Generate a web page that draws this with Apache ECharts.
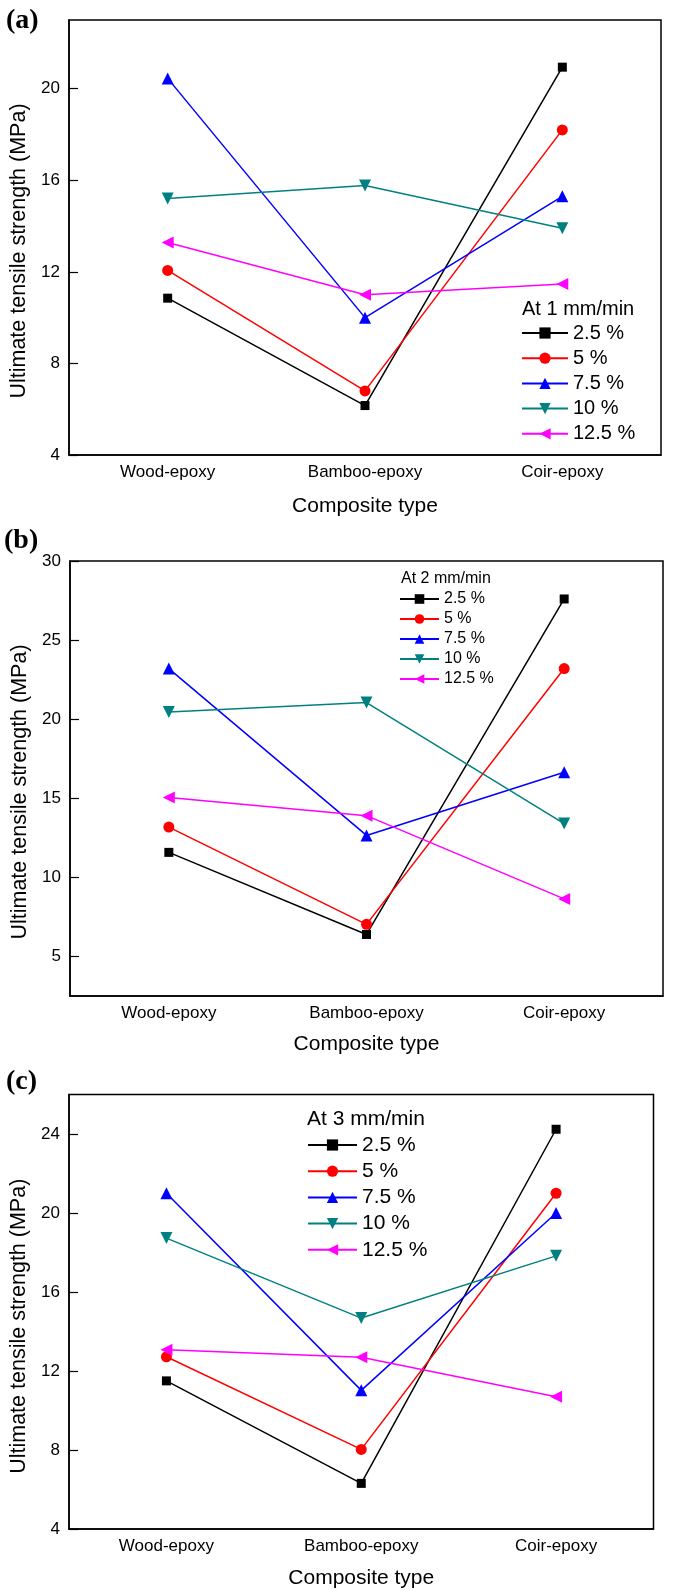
<!DOCTYPE html>
<html>
<head>
<meta charset="utf-8">
<script src="https://cdn.jsdelivr.net/npm/echarts@6/dist/echarts.min.js"></script>
<style>
html,body{margin:0;padding:0;background:#fff;}
#chart{width:685px;height:1593px;}
</style>
</head>
<body>
<div id="chart"></div>
<script>
// ---- data ----
const categories = ['Wood-epoxy', 'Bamboo-epoxy', 'Coir-epoxy'];
const seriesNames = ['2.5 %', '5 %', '7.5 %', '10 %', '12.5 %'];

// (a) At 1 mm/min
const a25  = [10.85, 6.16, 20.94];
const a5   = [12.06, 6.80, 18.20];
const a75  = [20.45, 10.00, 15.30];
const a10  = [15.20, 15.77, 13.90];
const a125 = [13.28, 11.00, 11.47];
// (b) At 2 mm/min
const b25  = [11.58, 6.39, 27.60];
const b5   = [13.18, 7.03, 23.20];
const b75  = [23.20, 12.65, 16.65];
const b10  = [20.45, 21.05, 13.40];
const b125 = [15.05, 13.90, 8.64];
// (c) At 3 mm/min
const c25  = [11.50, 6.31, 24.24];
const c5   = [12.72, 8.03, 21.00];
const c75  = [21.00, 11.02, 20.00];
const c10  = [18.73, 14.68, 17.83];
const c125 = [13.08, 12.70, 10.70];

const ticksA = [4, 8, 12, 16, 20];
const ticksB = [5, 10, 15, 20, 25, 30];
const ticksC = [4, 8, 12, 16, 20, 24];

const panelTitles = ['At 1 mm/min', 'At 2 mm/min', 'At 3 mm/min'];
const panelLetters = ['(a)', '(b)', '(c)'];

// ---- styles ----
const FONT = 'Liberation Sans, Arial, sans-serif';
const colors = ['#000000', '#ff0000', '#0000ff', '#008080', '#ff00ff'];
const symbols = ['rect', 'circle', 'triangle', 'triangle', 'triangle'];
const symbolRotates = [0, 0, 0, 180, 90];
const symbolSizes = [9, 11, 12, 12, 12];

const panels = [
  {data: [a25, a5, a75, a10, a125], ticks: ticksA, min: 4, max: 23,
   grid: {left: 69, right: 24, top: 20, height: 435},
   xNameGap: 41, yNameGap: 39, yShift: 27,
   legend: {left: 521, top: 323, font: 20, gap: 5.2, w: 46, h: 14},
   title: {left: 522, top: 299, font: 20},
   letter: {left: 6, top: 7}},
  {data: [b25, b5, b75, b10, b125], ticks: ticksB, min: 2.5, max: 30,
   grid: {left: 70, right: 22, top: 561, height: 435},
   xNameGap: 38, yNameGap: 39, yShift: 27,
   legend: {left: 399, top: 591, font: 16, gap: 4, w: 39, h: 12},
   title: {left: 401, top: 571, font: 16},
   letter: {left: 4, top: 527}},
  {data: [c25, c5, c75, c10, c125], ticks: ticksC, min: 4, max: 26,
   grid: {left: 60.5, right: 31.5, top: 1094.5, height: 434.5},
   xNameGap: 39, yNameGap: 39, yShift: 29,
   legend: {left: 307, top: 1134.5, font: 21, gap: 5.2, w: 49, h: 14},
   title: {left: 307, top: 1108.5, font: 21},
   letter: {left: 6, top: 1068}}
];

const grid = [], xAxis = [], yAxis = [], series = [], legend = [], title = [];
panels.forEach((p, i) => {
  grid.push(Object.assign({show: true, borderColor: '#000', borderWidth: 1.5, backgroundColor: 'transparent'}, p.grid));
  xAxis.push({
    type: 'category', gridIndex: i, data: categories, boundaryGap: true,
    axisLine: {lineStyle: {color: '#000', width: 1.5}},
    axisTick: {inside: true, alignWithLabel: true, length: 8, lineStyle: {color: '#000', width: 1.2}},
    axisLabel: {color: '#000', fontFamily: FONT, fontSize: 17, margin: 9},
    splitLine: {show: false},
    name: 'Composite type', nameLocation: 'middle', nameGap: p.xNameGap,
    nameTextStyle: {color: '#000', fontFamily: FONT, fontSize: 21}
  });
  yAxis.push({
    type: 'value', gridIndex: i, min: p.min, max: p.max,
    axisLine: {show: true, lineStyle: {color: '#000', width: 1.5}},
    axisTick: {show: true, inside: true, length: 9, customValues: p.ticks, lineStyle: {color: '#000', width: 1.2}},
    axisLabel: {color: '#000', fontFamily: FONT, fontSize: 17, margin: 9, customValues: p.ticks},
    splitLine: {show: false},
    name: 'Ultimate tensile strength (MPa)', nameLocation: 'middle', nameGap: p.yNameGap,
    nameTextStyle: {color: '#000', fontFamily: FONT, fontSize: 21.5, padding: [0, p.yShift, 0, 0]}
  });
  p.data.forEach((d, k) => {
    series.push({
      type: 'line', name: seriesNames[k], xAxisIndex: i, yAxisIndex: i, data: d,
      symbol: symbols[k], symbolSize: symbolSizes[k], symbolRotate: symbolRotates[k],
      showAllSymbol: true,
      itemStyle: {color: colors[k]},
      lineStyle: {color: colors[k], width: 1.5},
      z: 2 + k
    });
  });
  legend.push({
    orient: 'vertical', left: p.legend.left, top: p.legend.top, padding: 0,
    itemGap: p.legend.gap, itemWidth: p.legend.w, itemHeight: p.legend.h,
    data: seriesNames, selectedMode: false,
    textStyle: {color: '#000', fontFamily: FONT, fontSize: p.legend.font, lineHeight: p.legend.font}
  });
  title.push({
    text: panelTitles[i], left: p.title.left, top: p.title.top, padding: 0,
    textStyle: {color: '#000', fontFamily: FONT, fontSize: p.title.font, fontWeight: 'normal', lineHeight: p.title.font}
  });
  title.push({
    text: panelLetters[i], left: p.letter.left, top: p.letter.top, padding: 0,
    textStyle: {color: '#000', fontFamily: 'Liberation Serif, Times New Roman, serif', fontSize: 28, fontWeight: 'bold', lineHeight: 28}
  });
});

const chart = echarts.init(document.getElementById('chart'), null, {renderer: 'canvas'});
chart.setOption({
  animation: false,
  backgroundColor: '#fff',
  title, grid, xAxis, yAxis, series, legend
});
</script>
</body>
</html>
